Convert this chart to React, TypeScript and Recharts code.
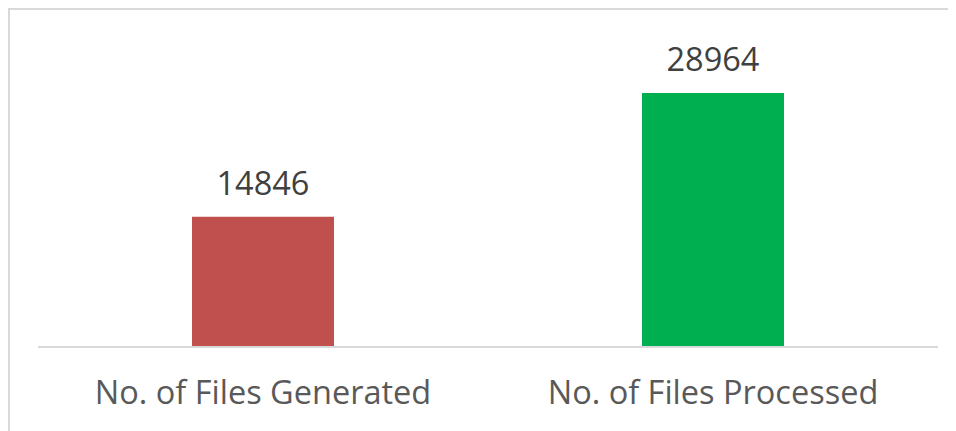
import { BarChart, Bar, XAxis, YAxis, LabelList, Cell } from 'recharts'

const categories = ['No. of Files Generated', 'No. of Files Processed']
const fileCounts = [14846, 28964]
const barColors = ['#C0504D', '#00B050']

const chartData = categories.map((name, i) => ({ name, value: fileCounts[i] }))

// the chart frame runs off the right and bottom edges, so keep the page from scrolling
document.body.style.overflow = 'hidden'

export default function App() {
  return (
    <div
      style={{
        width: 946,
        height: 421,
        borderLeft: '2px solid #D9D9D9',
        borderTop: '2px solid #D9D9D9',
        background: '#fff',
        overflow: 'hidden',
      }}
    >
      <BarChart
        width={946}
        height={421}
        data={chartData}
        margin={{ top: 30, right: 18, left: 28, bottom: 54 }}
        style={{ fontFamily: '"Open Sans", sans-serif' }}
      >
        <YAxis hide domain={[0, 35000]} />
        <XAxis
          dataKey="name"
          stroke="#D9D9D9"
          strokeWidth={2}
          tickLine={false}
          tick={{ fill: '#595959', fontSize: 32.5 }}
          tickMargin={28}
        />
        <Bar dataKey="value" barSize={142} isAnimationActive={false}>
          {chartData.map((entry, index) => (
            <Cell key={`cell-${index}`} fill={barColors[index]} />
          ))}
          <LabelList dataKey="value" position="top" offset={22} fill="#404040" fontSize={32.5} />
        </Bar>
      </BarChart>
    </div>
  )
}
